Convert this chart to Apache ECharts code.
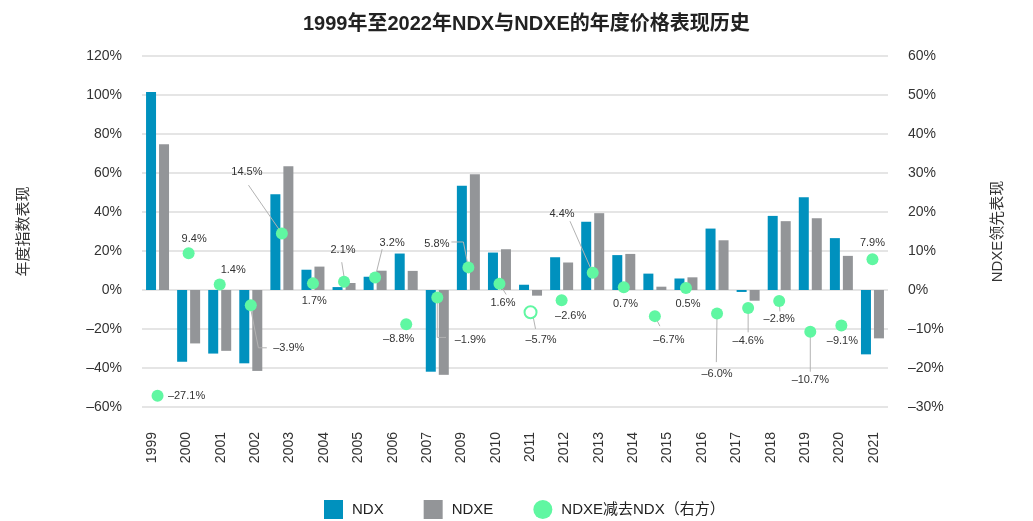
<!DOCTYPE html>
<html>
<head>
<meta charset="utf-8">
<script src="https://cdn.jsdelivr.net/npm/echarts@6/dist/echarts.min.js"></script>
<style>
html,body{margin:0;padding:0;background:#fff;}
#main{width:1033px;height:521px;}
</style>
</head>
<body>
<div id="main"></div>
<script>
// ---- data ----
var years = ['1999','2000','2001','2002','2003','2004','2005','2006','2007','2008','2009','2010','2011','2012','2013','2014','2015','2016','2017','2018','2019','2020','2021','2022'];
var tickLabels = ['1999','2000','2001','2002','2003','2004','2005','2006','2007','2009','2010','2011','2012','2013','2014','2015','2016','2017','2018','2019','2020','2021'];
var ndx  = [101.6,-36.8,-32.6,-37.6,49.1,10.4,1.5,6.8,18.7,-41.9,53.5,19.2,2.7,16.8,35.0,17.9,8.4,5.9,31.5,-1.0,38.0,47.6,26.6,-33.0];
var ndxe = [74.7,-27.4,-31.2,-41.5,63.4,12.0,3.6,9.9,9.8,-43.5,59.3,20.9,-2.9,14.1,39.4,18.5,1.7,6.5,25.5,-5.5,35.3,36.8,17.5,-24.8];
var diff = [-27.1,9.4,1.4,-3.9,14.5,1.7,2.1,3.2,-8.8,-1.9,5.8,1.6,-5.7,-2.6,4.4,0.7,-6.7,0.5,-6.0,-4.6,-2.8,-10.7,-9.1,7.9];
var hollowYears = ['2011'];

// ---- annotation layout (label offset from dot, leader line points relative to dot) ----
var annot = [
  {dx:29,dy:0},
  {dx:5.5,dy:-14},
  {dx:13.5,dy:-15},
  {dx:38,dy:42.6,line:[[0,4],[7.6,42.6],[16,42.6]]},
  {dx:-35,dy:-61,line:[[-33.4,-48.3],[0,0]]},
  {dx:1.3,dy:17.7},
  {dx:-1,dy:-31.6,line:[[-2.3,-19.6],[0,-5]]},
  {dx:17,dy:-34.3,line:[[7,-28.3],[0,0]]},
  {dx:-7.5,dy:15},
  {dx:33,dy:42.4,line:[[0,0],[0,40],[8.7,40]]},
  {dx:-31.5,dy:-23.7,line:[[-17,-25.4],[-5,-25.4],[0,0]]},
  {dx:3.5,dy:19.7,line:[[0,0],[6.7,10.7]]},
  {dx:10.5,dy:27.4,line:[[2.7,5],[5,16.7]]},
  {dx:9,dy:15.7},
  {dx:-30.7,dy:-59.3,line:[[-22.7,-51.6],[0,0]]},
  {dx:1.7,dy:16.3},
  {dx:14,dy:24,line:[[0,0],[5,10]]},
  {dx:2,dy:15.7},
  {dx:0,dy:60.3,line:[[0,0],[-0.7,48.7]]},
  {dx:0,dy:32.7,line:[[0,0],[0,24.4]]},
  {dx:0,dy:18.3,line:[[0,0],[0.7,10.5]]},
  {dx:0,dy:48.7,line:[[0,0],[0,40]]},
  {dx:1,dy:15},
  {dx:0,dy:-16}
];

var C_NDX = '#0091BE', C_NDXE = '#939598', C_DOT = '#60F7A2';
var FONT = '"Liberation Sans", Arial, "Noto Sans CJK SC", sans-serif';

function pct(v){ return (v < 0 ? '\u2013' + Math.abs(v) : '' + v) + '%'; }
function pct1(v){ return (v < 0 ? '\u2013' + Math.abs(v).toFixed(1) : v.toFixed(1)) + '%'; }

var dotData = diff.map(function(v, i){
  if (hollowYears.indexOf(years[i]) >= 0) {
    return {value: v, itemStyle: {color: '#ffffff', borderColor: C_DOT, borderWidth: 2}};
  }
  return v;
});
var annData = diff.map(function(v, i){ return [i, v]; });

var chart = echarts.init(document.getElementById('main'), null, {renderer: 'canvas'});
chart.setOption({
  animation: false,
  backgroundColor: '#ffffff',
  textStyle: {fontFamily: FONT},
  title: {
    text: '1999年至2022年NDX与NDXE的年度价格表现历史',
    left: 298, top: 9,
    textStyle: {fontSize: 20, fontWeight: 'bold', color: '#222', fontFamily: FONT}
  },
  legend: {
    left: 319, top: 495,
    itemWidth: 19, itemHeight: 19, itemGap: 40,
    textStyle: {fontSize: 15, color: '#222', fontFamily: FONT, padding: [0,0,0,4]},
    data: [
      {name: 'NDX', icon: 'rect'},
      {name: 'NDXE', icon: 'rect'},
      {name: 'NDXE减去NDX（右方）', icon: 'circle'}
    ]
  },
  grid: [
    {left: 142, right: 145, top: 56, bottom: 114},
    {left: 135, right: 142, top: 56, bottom: 114}
  ],
  xAxis: [
    {type: 'category', gridIndex: 0, data: years,
     axisLine: {show: false}, axisTick: {show: false}, axisLabel: {show: false}},
    {type: 'category', gridIndex: 1, data: tickLabels,
     axisLine: {show: false}, axisTick: {show: false},
     axisLabel: {interval: 0, rotate: 90, margin: 25, fontSize: 14, color: '#333', fontFamily: FONT}}
  ],
  yAxis: [
    {type: 'value', gridIndex: 0, min: -60, max: 120, interval: 20, position: 'left',
     name: '年度指数表现', nameLocation: 'middle', nameRotate: 90, nameGap: 111,
     nameTextStyle: {fontSize: 15, color: '#333', fontFamily: FONT},
     axisLine: {show: false}, axisTick: {show: false},
     axisLabel: {formatter: pct, fontSize: 14, color: '#333', margin: 20, fontFamily: FONT},
     splitLine: {lineStyle: {color: '#dddddd', width: 1.5}}},
    {type: 'value', gridIndex: 0, min: -30, max: 60, interval: 10, position: 'right',
     name: 'NDXE领先表现', nameLocation: 'middle', nameRotate: 90, nameGap: 102,
     nameTextStyle: {fontSize: 15, color: '#333', fontFamily: FONT},
     axisLine: {show: false}, axisTick: {show: false},
     axisLabel: {formatter: pct, fontSize: 14, color: '#333', margin: 20, fontFamily: FONT},
     splitLine: {show: false}},
    {type: 'value', gridIndex: 1, show: false, min: -60, max: 120}
  ],
  series: [
    {name: 'NDX', type: 'bar', xAxisIndex: 0, yAxisIndex: 0, data: ndx,
     barWidth: 10, barGap: '30%', itemStyle: {color: C_NDX}},
    {name: 'NDXE', type: 'bar', xAxisIndex: 0, yAxisIndex: 0, data: ndxe,
     barWidth: 10, barGap: '30%', itemStyle: {color: C_NDXE}},
    {name: 'annotations', type: 'custom', xAxisIndex: 0, yAxisIndex: 1, data: annData, z: 3,
     renderItem: function(params, api){
       var i = api.value(0), v = api.value(1);
       var p = api.coord([i, v]);
       var a = annot[i];
       var children = [];
       if (a.line) {
         children.push({type: 'polyline',
           shape: {points: a.line.map(function(q){ return [p[0] + q[0], p[1] + q[1]]; })},
           style: {stroke: '#b3b3b3', lineWidth: 1, fill: null}});
       }
       children.push({type: 'text',
         style: {text: pct1(v), x: p[0] + a.dx, y: p[1] + a.dy,
                 textAlign: 'center', textVerticalAlign: 'middle',
                 font: '11px ' + FONT, fill: '#333'}});
       return {type: 'group', children: children};
     }},
    {name: 'NDXE减去NDX（右方）', type: 'scatter', xAxisIndex: 0, yAxisIndex: 1, data: dotData,
     symbol: 'circle', symbolSize: 12, z: 5, itemStyle: {color: C_DOT, opacity: 1}}
  ]
});
</script>
</body>
</html>
